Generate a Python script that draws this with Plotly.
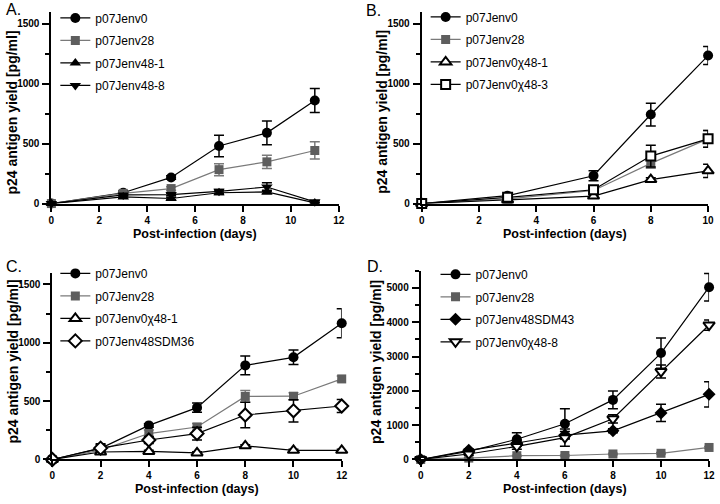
import plotly.graph_objects as go

FONT = "Liberation Sans, Arial, sans-serif"
W, H = 720, 504

# ---------------- data ----------------
A_days = [0, 3, 5, 7, 9, 11]
A_jenv0 = [0, 90, 218, 480, 590, 860]
A_jenv0_err = [0, 15, 15, 90, 100, 100]
A_jenv28 = [0, 85, 125, 283, 348, 443]
A_jenv28_err = [0, 10, 15, 50, 55, 72]
A_jenv48_1 = [0, 55, 42, 90, 97, 5]
A_jenv48_1_err = [0, 10, 10, 15, 15, 5]
A_jenv48_8 = [0, 72, 75, 102, 138, 14]
A_jenv48_8_err = [0, 10, 10, 15, 35, 10]

B_days = [0, 3, 6, 8, 10]
B_jenv0 = [0, 66, 232, 743, 1235]
B_jenv0_err = [0, 10, 42, 95, 75]
B_jenv28 = [0, 38, 109, 335, 540]
B_jenv28_err = [0, 8, 15, 40, 70]
B_chi48_1 = [0, 30, 62, 200, 273]
B_chi48_1_err = [0, 5, 10, 15, 55]
B_chi48_3 = [0, 52, 115, 396, 540]
B_chi48_3_err = [0, 8, 15, 90, 70]

C_days = [0, 2, 4, 6, 8, 10, 12]
C_jenv0 = [0, 95, 292, 444, 806, 875, 1167]
C_jenv0_err = [0, 40, 15, 40, 80, 62, 125]
C_jenv28 = [0, 80, 222, 278, 540, 542, 690]
C_jenv28_err = [0, 20, 30, 30, 50, 30, 25]
C_chi48_1 = [0, 64, 69, 56, 117, 78, 78]
C_chi48_1_err = [0, 10, 10, 10, 10, 10, 10]
C_sdm36 = [0, 97, 167, 222, 381, 417, 458]
C_sdm36_err = [0, 30, 30, 55, 110, 95, 55]

D_days = [0, 2, 4, 6, 8, 10, 12]
D_jenv0 = [0, 237, 588, 1040, 1736, 3100, 5020]
D_jenv0_err = [0, 50, 190, 440, 260, 440, 400]
D_jenv28 = [0, 40, 110, 115, 160, 180, 350]
D_jenv28_err = [0, 10, 15, 15, 20, 20, 30]
D_sdm43 = [0, 266, 480, 712, 835, 1357, 1898]
D_sdm43_err = [0, 40, 80, 100, 60, 250, 370]
D_chi48_8 = [0, 160, 380, 636, 1186, 2562, 3918]
D_chi48_8_err = [0, 40, 80, 250, 120, 190, 150]

panel_labels = ["A.", "B.", "C.", "D."]
x_title = "Post-infection (days)"
y_title = "p24 antigen yield [pg/ml]"

BLACK = "#000000"
GRAY_M = "#5e5e5e"
GRAY_L = "#7a7a7a"

# ---------------- styles ----------------
def style(kind):
    if kind == "circle":
        return dict(symbol="circle", color=BLACK, line=dict(color=BLACK, width=0), size=10), BLACK
    if kind == "gsquare":
        return dict(symbol="square", color=GRAY_M, line=dict(color=GRAY_M, width=0), size=9), GRAY_L
    if kind == "tri":
        return dict(symbol="triangle-up", color=BLACK, line=dict(color=BLACK, width=0), size=10), BLACK
    if kind == "trid":
        return dict(symbol="triangle-down", color=BLACK, line=dict(color=BLACK, width=0), size=10), BLACK
    if kind == "otri":
        return dict(symbol="triangle-up", color="white", line=dict(color=BLACK, width=2), size=10), BLACK
    if kind == "osquare":
        return dict(symbol="square", color="white", line=dict(color=BLACK, width=2), size=9), BLACK
    if kind == "odiamond":
        return dict(symbol="diamond", color="white", line=dict(color=BLACK, width=2), size=10), BLACK
    if kind == "diamond":
        return dict(symbol="diamond", color=BLACK, line=dict(color=BLACK, width=0), size=10), BLACK
    if kind == "otrid":
        return dict(symbol="triangle-down", color="white", line=dict(color=BLACK, width=2), size=10), BLACK


panels = [
    ("", "legend", A_days, [
        ("p07Jenv0", A_jenv0, A_jenv0_err, "circle"),
        ("p07Jenv28", A_jenv28, A_jenv28_err, "gsquare"),
        ("p07Jenv48-1", A_jenv48_1, A_jenv48_1_err, "tri"),
        ("p07Jenv48-8", A_jenv48_8, A_jenv48_8_err, "trid"),
    ]),
    ("2", "legend2", B_days, [
        ("p07Jenv0", B_jenv0, B_jenv0_err, "circle"),
        ("p07Jenv28", B_jenv28, B_jenv28_err, "gsquare"),
        ("p07Jenv0\u03c748-1", B_chi48_1, B_chi48_1_err, "otri"),
        ("p07Jenv0\u03c748-3", B_chi48_3, B_chi48_3_err, "osquare"),
    ]),
    ("3", "legend3", C_days, [
        ("p07Jenv0", C_jenv0, C_jenv0_err, "circle"),
        ("p07Jenv28", C_jenv28, C_jenv28_err, "gsquare"),
        ("p07Jenv0\u03c748-1", C_chi48_1, C_chi48_1_err, "otri"),
        ("p07Jenv48SDM36", C_sdm36, C_sdm36_err, "odiamond"),
    ]),
    ("4", "legend4", D_days, [
        ("p07Jenv0", D_jenv0, D_jenv0_err, "circle"),
        ("p07Jenv28", D_jenv28, D_jenv28_err, "gsquare"),
        ("p07Jenv48SDM43", D_sdm43, D_sdm43_err, "diamond"),
        ("p07Jenv0\u03c748-8", D_chi48_8, D_chi48_8_err, "otrid"),
    ]),
]

fig = go.Figure()
for suf, leg, xs, series in panels:
    for name, ys, err, kind in series:
        mk, lc = style(kind)
        fig.add_trace(go.Scatter(
            x=xs, y=ys, name=name, mode="lines+markers",
            xaxis="x" + suf, yaxis="y" + suf, legend=leg,
            legendgroup=leg + name,
            line=dict(color=lc, width=1.2),
            marker=mk,
            error_y=dict(type="data", array=err, visible=True, color=lc,
                         thickness=1.5, width=5),
            cliponaxis=False,
        ))

# ---------------- layout geometry (pixels) ----------------
def px_x(p):
    return p / W

def px_y(p):
    return 1 - p / H

# (x_left, x_right, y_top, y_bottom, xmax, ymax, ydtick)
geom = [
    (49, 340, 12, 206, 12, 1600, 500),
    (424, 714, 12, 206, 10, 1600, 500),
    (50, 343, 276, 465, 12, 1600, 500),
    (423, 715, 274, 465, 12, 5500, 1000),
]

tickfont = dict(family=FONT, size=10, color=BLACK, weight="bold")
layout = dict(
    width=W, height=H, margin=dict(l=0, r=0, t=0, b=0),
    paper_bgcolor="white", plot_bgcolor="white",
    font=dict(family=FONT, color=BLACK),
)
for i, (xl, xr, yt, yb, xmax, ymax, ydt) in enumerate(geom):
    suf = "" if i == 0 else str(i + 1)
    layout["xaxis" + suf] = dict(
        domain=[px_x(xl), px_x(xr)], range=[0, xmax], anchor="y" + suf,
        showgrid=False, zeroline=False, showline=True, linecolor=BLACK, linewidth=2,
        ticks="outside", ticklen=6, tickwidth=2, tickcolor=BLACK,
        tick0=0, dtick=2, tickfont=tickfont, fixedrange=True,
    )
    layout["yaxis" + suf] = dict(
        domain=[px_y(yb), px_y(yt)], range=[0, ymax], anchor="x" + suf,
        showgrid=False, zeroline=False, showline=True, linecolor=BLACK, linewidth=2,
        ticks="outside", ticklen=7, tickwidth=2, tickcolor=BLACK,
        tick0=0, dtick=ydt, tickfont=tickfont, ticklabelstandoff=1,
        minor=dict(ticks="outside", ticklen=4, tickwidth=2, tickcolor=BLACK,
                   tick0=0, dtick=ydt / 2),
        fixedrange=True,
    )

legpos = [(53, 3.5), (428, 2.5), (53, 262), (438, 263)]
for i, (lx, ly) in enumerate(legpos):
    key = "legend" if i == 0 else "legend" + str(i + 1)
    layout[key] = dict(
        x=px_x(lx), y=px_y(ly), xanchor="left", yanchor="top",
        bgcolor="rgba(0,0,0,0)", borderwidth=0,
        font=dict(family=FONT, size=12, color=BLACK),
        tracegroupgap=3.5, itemclick=False, itemdoubleclick=False,
    )

annotations = []
label_pos = [(1, 10), (366, 11), (1, 270), (367, 270)]
for (lx, ly), t in zip(label_pos, panel_labels):
    annotations.append(dict(x=px_x(lx), y=px_y(ly), xref="paper", yref="paper",
                            text=t, showarrow=False, xanchor="left", yanchor="middle",
                            font=dict(family=FONT, size=16, color=BLACK)))
xt_pos = [(194.5, 237), (569, 237), (196.5, 495), (569, 495)]
for (cx, cy) in xt_pos:
    annotations.append(dict(x=px_x(cx), y=px_y(cy), xref="paper", yref="paper",
                            text=x_title, showarrow=False, xanchor="center", yanchor="middle",
                            font=dict(family=FONT, size=12.5, color=BLACK, weight="bold")))
yt_pos = [(9, 114), (383, 113), (10, 366), (377, 366)]
for (cx, cy) in yt_pos:
    annotations.append(dict(x=px_x(cx), y=px_y(cy), xref="paper", yref="paper",
                            text=y_title, showarrow=False, textangle=-90,
                            xanchor="center", yanchor="middle",
                            font=dict(family=FONT, size=14, color=BLACK, weight="bold")))
layout["annotations"] = annotations

fig.update_layout(**layout)
fig.write_html(
    "out.html",
    config={"displayModeBar": False, "staticPlot": True},
    post_script="document.body.style.margin='0px';document.body.style.padding='0px';"
                "document.body.style.overflow='hidden';",
)
